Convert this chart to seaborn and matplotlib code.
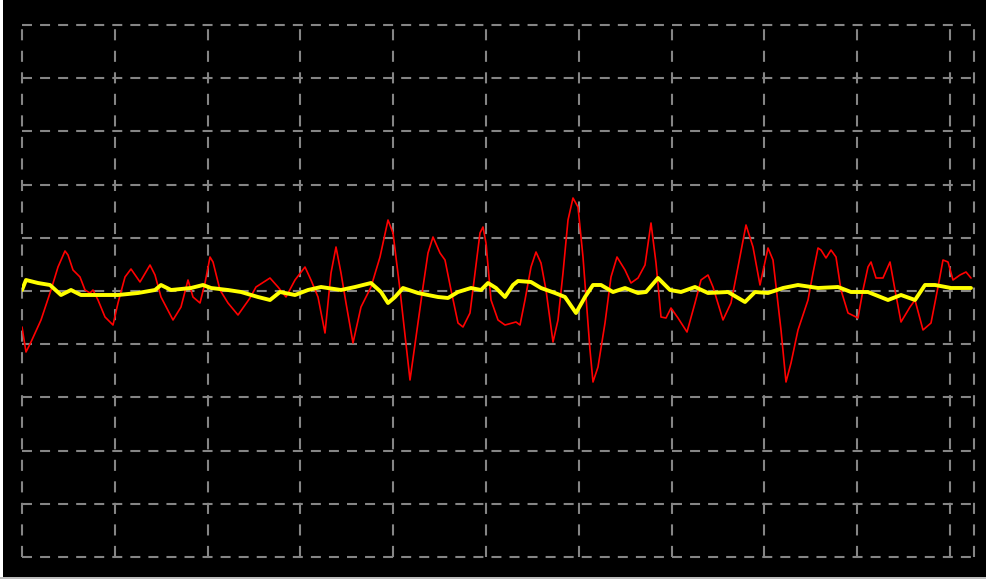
import matplotlib
matplotlib.use("Agg")
import matplotlib.pyplot as plt
import seaborn as sns
import pandas as pd
from matplotlib.patches import Rectangle

# Sample index (x) and ADC counts (y, 0 = centre line)
ch1_t = [0, 4, 9, 19, 29, 36, 43, 46, 51, 58, 63, 68, 71, 76, 83, 91, 96, 103, 109, 118,
         128, 133, 139, 151, 159, 166, 171, 178, 183, 188, 191, 198, 206, 216, 228, 234,
         248, 256, 264, 273, 283, 289, 296, 303, 309, 314, 319, 324, 331, 339, 349, 358,
         366, 371, 378, 381, 388, 396, 401, 406, 411, 418, 423, 429, 436, 441, 448, 453,
         458, 461, 464, 469, 476, 483, 494, 498, 503, 509, 514, 519, 524, 531, 536, 541,
         546, 551, 556, 561, 568, 571, 576, 583, 589, 595, 603, 609, 616, 623, 629, 634,
         639, 644, 649, 656, 665, 673, 679, 686, 691, 701, 709, 716, 724, 731, 738, 746,
         751, 759, 764, 769, 776, 786, 791, 796, 799, 804, 809, 814, 819, 826, 836, 841,
         846, 849, 854, 861, 868, 873, 879, 888, 893, 901, 909, 916, 921, 926, 931, 938,
         944, 949]
ch1_v = [-36, -61, -51, -29, 1, 24, 40, 36, 21, 14, 1, -2, 1, -9, -26, -34, -12, 14, 22, 9,
         26, 16, -6, -29, -16, 11, -6, -12, 8, 34, 29, 1, -12, -24, -7, 4,
         13, 4, -6, 11, 24, 11, -6, -42, 18, 44, 18, -12, -52, -16, 4, 34,
         71, 58, 1, -26, -89, -32, 4, 38, 54, 38, 31, 1, -32, -36, -22, 18,
         58, 64, 48, -9, -29, -34, -31, -34, -9, 24, 39, 28, 1, -51, -29, 18,
         71, 93, 84, 34, -59, -91, -76, -32, 14, 34, 21, 8, 13, 26, 68, 28,
         -26, -27, -17, -27, -41, -12, 11, 16, 4, -29, -12, 24, 66, 44, 6, 43,
         31, -39, -91, -72, -39, -9, 18, 43, 41, 33, 41, 34, 1, -22, -27, 1,
         24, 29, 13, 13, 29, 1, -31, -16, -9, -39, -32, 4, 31, 29, 11, 16,
         19, 13]

ch2_t = [0, 4, 16, 28, 39, 49, 59, 79, 96, 116, 133, 139, 149, 169, 181, 189, 206, 219,
         236, 248, 258, 273, 286, 299, 319, 333, 349, 359, 366, 373, 381, 396, 416, 426,
         436, 449, 459, 466, 474, 483, 491, 496, 509, 519, 533, 543, 554, 563, 571, 579,
         591, 603, 616, 624, 636, 648, 659, 673, 686, 706, 723, 733, 746, 761, 776, 796,
         816, 829, 846, 866, 879, 893, 903, 913, 929, 949]
ch2_v = [1, 11, 8, 6, -4, 1, -4, -4, -4, -2, 1, 6, 1, 3, 6, 3, 1, -1,
         -6, -9, -1, -4, 1, 4, 1, 4, 8, -1, -12, -6, 3, -2, -6, -7,
         -1, 3, 1, 8, 3, -6, 6, 10, 9, 3, -2, -6, -22, -6, 6, 6,
         -1, 3, -2, -1, 13, 1, -1, 4, -2, -1, -11, -1, -2, 3, 6, 3,
         4, -1, -1, -9, -4, -9, 6, 6, 3, 3]

x_div = [0, 92.8, 185.6, 278.4, 371.2, 464, 556.8, 649.6, 742.4, 835.2, 928, 952]
y_div = [-266, -212.8, -159.6, -106.4, -53.2, 0, 53.2, 106.4, 159.6, 212.8, 266]

df1 = pd.DataFrame({"t": ch1_t, "v": ch1_v})
df2 = pd.DataFrame({"t": ch2_t, "v": ch2_v})

sns.set_theme(style="dark")
plt.rcParams["lines.scale_dashes"] = False

W, H = 987, 579
fig = plt.figure(figsize=(W / 100, H / 100), dpi=100, facecolor="black")
ax = fig.add_axes([22 / W, (H - 557) / H, 952 / W, 532 / H])
ax.set_facecolor("black")
ax.set_xlim(0, 952)
ax.set_ylim(-266, 266)

ax.set_xticks(x_div)
ax.set_yticks(y_div)
ax.grid(axis="x", color="#858585", linewidth=1.5, linestyle=(0, (8.0, 7.5)))
ax.grid(axis="y", color="#858585", linewidth=1.5, linestyle=(0, (7.2, 5.8)))
ax.tick_params(left=False, bottom=False, labelleft=False, labelbottom=False)
for s in ax.spines.values():
    s.set_visible(False)

sns.lineplot(data=df1, x="t", y="v", ax=ax, color="#ff0000", linewidth=1.2,
             sort=False, estimator=None)
sns.lineplot(data=df2, x="t", y="v", ax=ax, color="#ffff00", linewidth=2.8,
             sort=False, estimator=None)
ax.set_xlabel("")
ax.set_ylabel("")

for gl in ax.get_xgridlines() + ax.get_ygridlines():
    gl.set_clip_on(False)

# thin light frame edges of the screenshot
fig.patches.append(Rectangle((0, 0), 3 / W, 1, transform=fig.transFigure,
                             facecolor="white", edgecolor="none"))
fig.patches.append(Rectangle((0, 0), 1, 2 / H, transform=fig.transFigure,
                             facecolor="#bdbdbd", edgecolor="none"))

fig.savefig("out.png", dpi=100, facecolor="black")
